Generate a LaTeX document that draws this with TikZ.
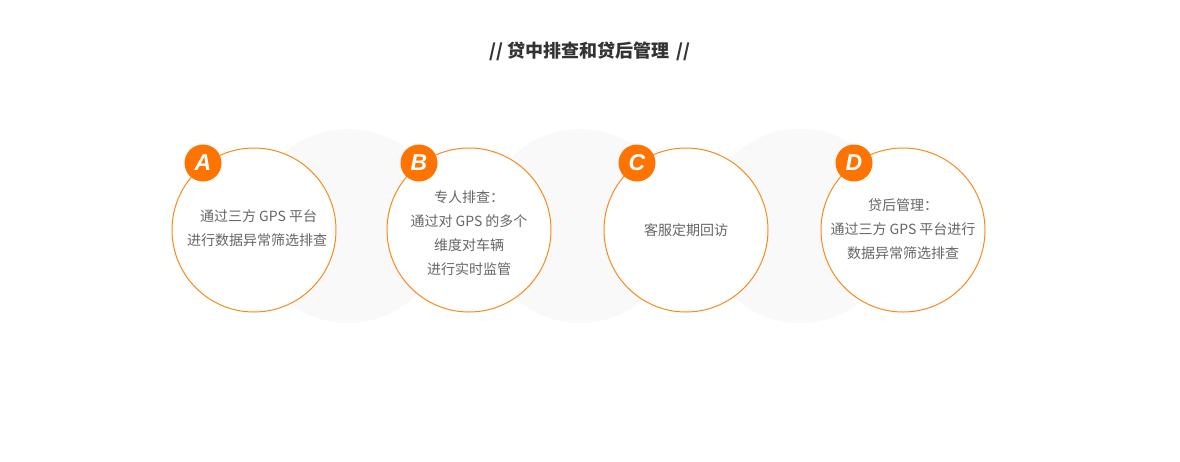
\documentclass[tikz,border=0pt]{standalone}
\usepackage{fontspec}
\setmainfont{Liberation Sans}
\newfontfamily\cjk{Noto Sans CJK SC}
\definecolor{orng}{HTML}{FF7300}
\definecolor{ring}{HTML}{F98A1E}
\definecolor{bgc}{HTML}{F9F9F9}
\definecolor{txt}{HTML}{666666}
\definecolor{ttl}{HTML}{333333}
\begin{document}
\begin{tikzpicture}[x=1pt,y=-1pt,
  shadow/.style={circle,fill=bgc,minimum size=194pt,inner sep=0pt},
  ringc/.style={circle,draw=ring,line width=1pt,fill=white,minimum size=164pt,inner sep=0pt},
  badge/.style={circle,fill=orng,minimum size=37pt,inner sep=0pt,text=white,font=\fontsize{23}{23}\selectfont\bfseries\itshape},
  body/.style={align=center,text=txt,font=\cjk\fontsize{14}{24}\selectfont}]
\useasboundingbox (0,0) rectangle (1180,461);
\fill[white] (0,0) rectangle (1180,461);
\node[text=ttl,font=\cjk\fontsize{18}{20}\selectfont\bfseries] (title) at (590,51) {// 贷中排查和贷后管理 \,//};
\node[shadow] (s1) at (348,226) {};
\node[shadow] (s2) at (580,226) {};
\node[shadow] (s3) at (800,226) {};
\node[ringc] (ca) at (254,230) {};
\node[ringc] (cb) at (469,230) {};
\node[ringc] (cc) at (686,230) {};
\node[ringc] (cd) at (903,230) {};
\node[badge] (ba) at (203,163) {A};
\node[badge] (bb) at (419,163) {B};
\node[badge] (bc) at (637,163) {C};
\node[badge] (bd) at (854,163) {D};
\node[body] (ta) at (257,228) {\ 通过三方 GPS 平台\\进行数据异常筛选排查};
\node[body] (tb) at (469,233) {专人排查：\\通过对 GPS 的多个\\维度对车辆\\进行实时监管};
\node[body] (tc) at (686,230) {客服定期回访};
\node[body] (td) at (903,229) {贷后管理：\\通过三方 GPS 平台进行\\数据异常筛选排查};
\end{tikzpicture}
\end{document}
